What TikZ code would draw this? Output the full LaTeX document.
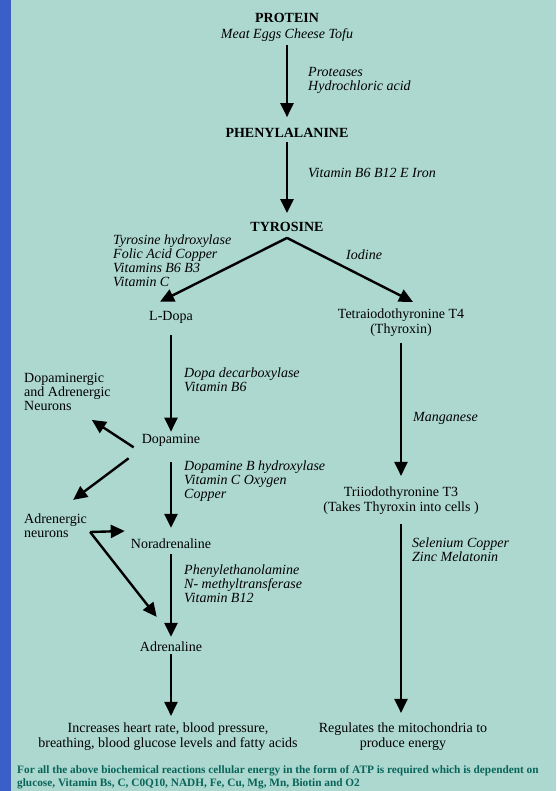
\documentclass[tikz,border=0pt]{standalone}
\usepackage{fontspec}
\setmainfont{Liberation Serif}
\usetikzlibrary{arrows.meta,calc,positioning}
\definecolor{bg}{RGB}{173,216,207}
\definecolor{sidebar}{RGB}{58,96,200}
\definecolor{note}{RGB}{8,100,90}

\begin{document}
\begin{tikzpicture}[x=1pt, y=-1pt,
                nodes={inner sep=1pt, align=center, font=\fontsize{14}{15}\selectfont},
                chem/.style={font=\fontsize{14}{16}\selectfont\bfseries},
                enz/.style={anchor=west, align=left, font=\fontsize{14}{14}\selectfont\itshape},
                flow/.style={-{Triangle[length=14pt, width=13pt]}, line width=2.4pt}]
            \fill [bg] (0,0) rectangle (556,791);
            \fill [sidebar] (0,0) rectangle (11,791);
            \useasboundingbox (0,0) rectangle (556,791);

            \node [chem] (prot) at (287,27) {PROTEIN\\{\mdseries\itshape Meat Eggs Cheese Tofu}};
            \node [chem] (phe) at (287,133) {PHENYLALANINE};
            \node [chem] (tyr) at (287,227) {TYROSINE};
            \node (dopa) at (171,317) {L-Dopa};
            \node (t4) at (401,323) {Tetraiodothyronine T4\\(Thyroxin)};
            \node (da) at (171,440) {Dopamine};
            \node (na) at (171,544) {Noradrenaline};
            \node (ad) at (171,647) {Adrenaline};
            \node (t3) at (401,501) {Triiodothyronine T3\\(Takes Thyroxin into cells )};
            \node [anchor=west, align=left, font=\fontsize{14}{14}\selectfont] (dopn) at (23,392) {Dopaminergic\\and Adrenergic\\Neurons};
            \node [anchor=west, align=left, font=\fontsize{14}{14}\selectfont] (adn) at (23,526) {Adrenergic\\neurons};
            \node (heart) at (168,737) {Increases heart rate, blood pressure,\\breathing, blood glucose levels and fatty acids};
            \node (energy) at (403,737) {Regulates the mitochondria to\\produce energy};
            \node [anchor=west, align=left, text=note, font=\fontsize{11.3}{13}\selectfont\bfseries] (atp) at (16,777.5)
                {For all the above biochemical reactions cellular energy in the form of ATP is required which is dependent on\\glucose, Vitamin Bs, C, C0Q10, NADH, Fe, Cu, Mg, Mn, Biotin and O2};

            \node [enz] (prt) at (307,80) {Proteases\\Hydrochloric acid};
            \node [enz] (vit) at (307,173) {Vitamin B6 B12 E Iron};
            \node [enz] (th) at (112,261) {Tyrosine hydroxylase\\Folic Acid Copper\\Vitamins B6 B3\\Vitamin C};
            \node [enz] (iod) at (345,255) {Iodine};
            \node [enz] (ddc) at (183,380) {Dopa decarboxylase\\Vitamin B6};
            \node [enz] (dbh) at (183,481) {Dopamine B hydroxylase\\Vitamin C Oxygen\\Copper};
            \node [enz] (pnmt) at (183,584) {Phenylethanolamine\\N- methyltransferase\\Vitamin B12};
            \node [enz] (mn) at (412,418) {Manganese};
            \node [enz] (se) at (411,550) {Selenium Copper\\Zinc Melatonin};

            \draw [flow, shorten <=3pt, shorten >=10pt] (prot) -- (phe);
            \draw [flow, shorten <=3pt, shorten >=8pt] (phe) -- (tyr);
            \coordinate [below=5pt of tyr] (fork);
            \draw [flow] (fork) -- ($(dopa.north west)+(12,-8)$);
            \draw [flow] (fork) -- ($(t4.north)+(12,-6)$);

            \draw [flow, shorten <=11pt, shorten >=1pt] (dopa) -- (da);
            \draw [flow] ($(da.south west)+(-7,0)$) -- ($(dopn.south east)+(-20,8)$);
            \draw [flow] ($(da.south west)+(-12,11)$) -- ($(adn.north east)+(-15,-13)$);
            \draw [flow, shorten <=15pt, shorten >=10pt] (da) -- (na);
            \coordinate (j) at ($(adn.east)+(2,6)$);
            \draw [flow] (j) -- ($(na.west)+(-5,-13)$);
            \draw [flow] (j) -- ($(ad.north west)+(18,-24)$);
            \draw [flow, shorten <=4pt, shorten >=4pt] (na) -- (ad);
            \draw [flow, shorten <=1pt, shorten >=6pt] (ad) -- (ad |- heart.north);

            \draw [flow, shorten <=5pt, shorten >=10pt] (t4) -- (t3);
            \draw [flow, shorten <=8pt, shorten >=9pt] (t3) -- (t3 |- energy.north);
        \end{tikzpicture}
\end{document}
